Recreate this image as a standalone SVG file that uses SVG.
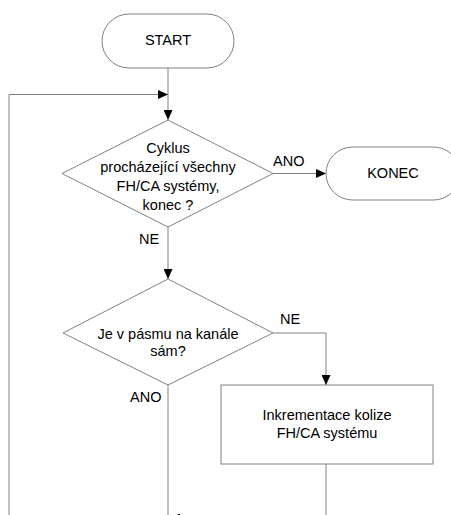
<svg xmlns="http://www.w3.org/2000/svg" width="451" height="515" viewBox="0 0 451 515">
<style>
.s{fill:#fff;stroke:#808080;stroke-width:1}
.c{fill:none;stroke:#808080;stroke-width:1}
text{font-family:"Liberation Sans",Arial,sans-serif;font-size:14.5px;fill:#000}
.m{text-anchor:middle}
</style>
<defs>
<marker id="arr" viewBox="0 0 10 9" refX="10" refY="4.5" markerWidth="10" markerHeight="9" orient="auto" markerUnits="userSpaceOnUse"><path d="M0,0 L10,4.5 L0,9 z" fill="#000"/></marker>
</defs>
<rect width="451" height="515" fill="#fff"/>
<g id="connectors">
<path class="c" d="M168,68 V120" marker-end="url(#arr)"/>
<path class="c" d="M9,530 V94.5 H168" marker-end="url(#arr)"/>
<path class="c" d="M273,173.5 H326" marker-end="url(#arr)"/>
<path class="c" d="M168,227 V279" marker-end="url(#arr)"/>
<path class="c" d="M273,333 H326 V385" marker-end="url(#arr)"/>
<path class="c" d="M326,464 V518 H170" marker-end="url(#arr)"/>
<path class="c" d="M168,385 V530"/>
<text x="273" y="166">ANO</text>
<text x="139" y="244">NE</text>
<text x="280" y="324">NE</text>
<text x="130" y="402">ANO</text>
</g>
<g id="start">
<rect class="s" x="102" y="14" width="132" height="54" rx="27"/>
<text class="m" x="168" y="45">START</text>
</g>
<g id="decision1">
<polygon class="s" points="168,120 273,173.5 168,227 62,173.5"/>
<text class="m" x="168" y="153">Cyklus</text>
<text class="m" x="168" y="172">procházející všechny</text>
<text class="m" x="168" y="191">FH/CA systémy,</text>
<text class="m" x="168" y="210">konec ?</text>
</g>
<g id="konec">
<rect class="s" x="326" y="147" width="134" height="53" rx="26.5"/>
<text class="m" x="393" y="178">KONEC</text>
</g>
<g id="decision2">
<polygon class="s" points="168,279 273,333 168,385 63,333"/>
<text class="m" x="168" y="339">Je v pásmu na kanále</text>
<text class="m" x="168" y="356">sám?</text>
</g>
<g id="inkrementace">
<rect class="s" x="221" y="385" width="212" height="79"/>
<text class="m" x="327" y="420">Inkrementace kolize</text>
<text class="m" x="327" y="438">FH/CA systému</text>
</g>
</svg>
